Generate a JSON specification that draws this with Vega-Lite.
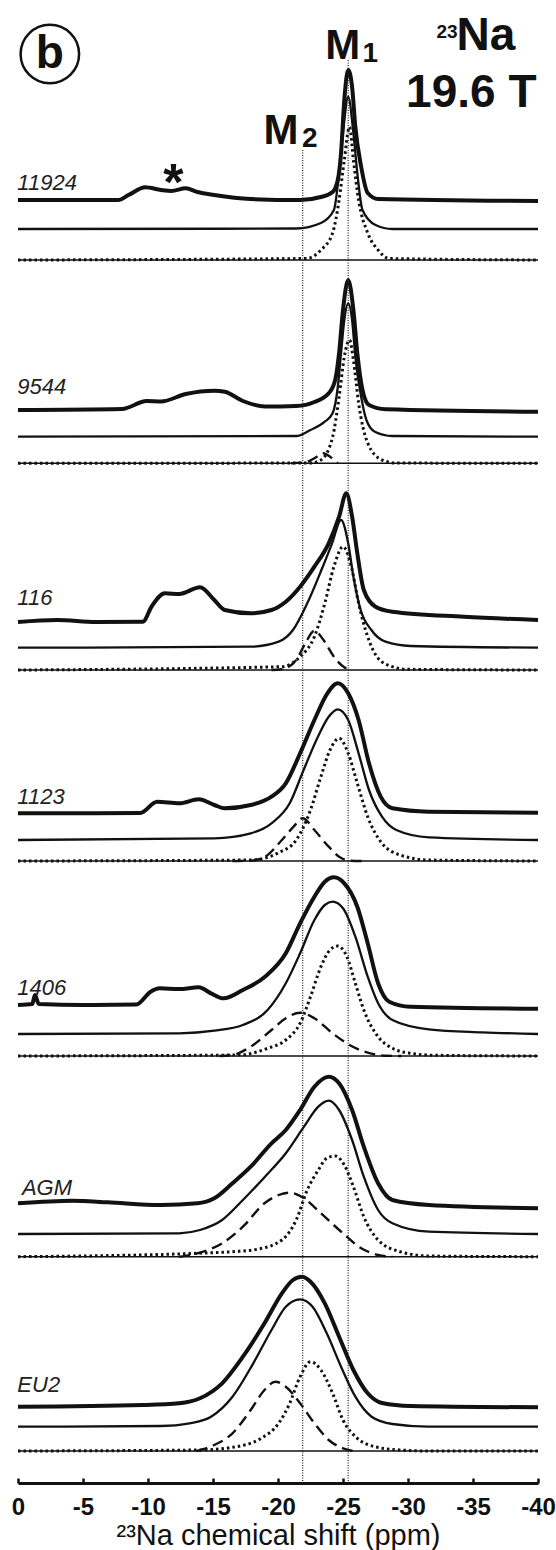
{
 "$schema": "https://vega.github.io/schema/vega-lite/v6.json",
 "width": 520, "height": 1483,
 "autosize": {"type": "none"},
 "padding": {"left": 18, "right": 18, "top": 0, "bottom": 67},
 "background": "white",
 "config": {"view": {"stroke": null}},
 "datasets": {
  "exp": [
   {"s":"11924","x":0,"y":1251},{"s":"11924","x":-7.7,"y":1251},{"s":"11924","x":-8.5,"y":1256},{"s":"11924","x":-9.8,"y":1263.7},{"s":"11924","x":-11.0,"y":1261},{"s":"11924","x":-11.8,"y":1260},{"s":"11924","x":-12.9,"y":1262.7},{"s":"11924","x":-13.8,"y":1259},{"s":"11924","x":-15.1,"y":1256},{"s":"11924","x":-17.9,"y":1252},{"s":"11924","x":-21.7,"y":1251},{"s":"11924","x":-23.3,"y":1254},{"s":"11924","x":-24.2,"y":1259},{"s":"11924","x":-24.6,"y":1271},{"s":"11924","x":-24.85,"y":1298},{"s":"11924","x":-25.1,"y":1351},{"s":"11924","x":-25.4,"y":1381},{"s":"11924","x":-25.7,"y":1364},{"s":"11924","x":-25.95,"y":1324},{"s":"11924","x":-26.4,"y":1284},{"s":"11924","x":-26.9,"y":1258},{"s":"11924","x":-27.7,"y":1252},{"s":"11924","x":-40,"y":1250},
   {"s":"9544","x":0,"y":1041},{"s":"9544","x":-8.0,"y":1042},{"s":"9544","x":-9.9,"y":1050},{"s":"9544","x":-11.0,"y":1049.5},{"s":"9544","x":-12.9,"y":1057},{"s":"9544","x":-15.1,"y":1060.3},{"s":"9544","x":-15.9,"y":1059.3},{"s":"9544","x":-17.3,"y":1050},{"s":"9544","x":-19.0,"y":1044.5},{"s":"9544","x":-21.4,"y":1045},{"s":"9544","x":-22.8,"y":1049},{"s":"9544","x":-23.9,"y":1057.7},{"s":"9544","x":-24.4,"y":1071},{"s":"9544","x":-24.7,"y":1098},{"s":"9544","x":-25.0,"y":1141},{"s":"9544","x":-25.4,"y":1171},{"s":"9544","x":-25.8,"y":1141},{"s":"9544","x":-26.1,"y":1098},{"s":"9544","x":-26.5,"y":1061},{"s":"9544","x":-27.0,"y":1046},{"s":"9544","x":-28.3,"y":1041.7},{"s":"9544","x":-40,"y":1039.3},
   {"s":"116","x":0,"y":829},{"s":"116","x":-3,"y":831},{"s":"116","x":-6,"y":829},{"s":"116","x":-9.6,"y":829.3},{"s":"116","x":-10.3,"y":845},{"s":"116","x":-11.3,"y":857.7},{"s":"116","x":-12.4,"y":857},{"s":"116","x":-14.0,"y":863.7},{"s":"116","x":-15.1,"y":851},{"s":"116","x":-15.9,"y":841},{"s":"116","x":-17.9,"y":837.7},{"s":"116","x":-19.5,"y":841},{"s":"116","x":-20.6,"y":849.3},{"s":"116","x":-21.7,"y":864.3},{"s":"116","x":-22.8,"y":884.3},{"s":"116","x":-23.9,"y":907.7},{"s":"116","x":-24.7,"y":934.3},{"s":"116","x":-25.25,"y":957.7},{"s":"116","x":-25.7,"y":934.3},{"s":"116","x":-26.1,"y":897.7},{"s":"116","x":-26.6,"y":861},{"s":"116","x":-27.5,"y":844.3},{"s":"116","x":-28.8,"y":839.3},{"s":"116","x":-34.3,"y":834.3},{"s":"116","x":-40,"y":831},
   {"s":"1123","x":0,"y":637.7},{"s":"1123","x":-9.4,"y":638},{"s":"1123","x":-10.7,"y":649.3},{"s":"1123","x":-12.4,"y":647.7},{"s":"1123","x":-13.9,"y":651.7},{"s":"1123","x":-15.1,"y":646},{"s":"1123","x":-15.9,"y":642.7},{"s":"1123","x":-17.9,"y":646},{"s":"1123","x":-19.5,"y":654.3},{"s":"1123","x":-20.6,"y":667.7},{"s":"1123","x":-21.7,"y":697.7},{"s":"1123","x":-22.8,"y":731},{"s":"1123","x":-23.8,"y":757.7},{"s":"1123","x":-24.6,"y":767.7},{"s":"1123","x":-25.4,"y":757.7},{"s":"1123","x":-26.2,"y":731},{"s":"1123","x":-27.0,"y":687.7},{"s":"1123","x":-27.9,"y":654.3},{"s":"1123","x":-28.8,"y":642.7},{"s":"1123","x":-31.6,"y":639.3},{"s":"1123","x":-40,"y":638.3},
   {"s":"1406","x":0,"y":446},{"s":"1406","x":-1.1,"y":447},{"s":"1406","x":-1.3,"y":456},{"s":"1406","x":-1.6,"y":447},{"s":"1406","x":-5,"y":446},{"s":"1406","x":-9.1,"y":446.5},{"s":"1406","x":-10.2,"y":459.3},{"s":"1406","x":-10.9,"y":462.7},{"s":"1406","x":-12.4,"y":462},{"s":"1406","x":-13.9,"y":463.7},{"s":"1406","x":-14.85,"y":457.7},{"s":"1406","x":-15.8,"y":452.7},{"s":"1406","x":-17.3,"y":461},{"s":"1406","x":-19.0,"y":474.3},{"s":"1406","x":-20.6,"y":497.7},{"s":"1406","x":-21.7,"y":527.7},{"s":"1406","x":-22.8,"y":554.3},{"s":"1406","x":-23.6,"y":569.3},{"s":"1406","x":-24.3,"y":573.7},{"s":"1406","x":-25.1,"y":567.7},{"s":"1406","x":-26.1,"y":544.3},{"s":"1406","x":-26.9,"y":507.7},{"s":"1406","x":-27.7,"y":467.7},{"s":"1406","x":-28.55,"y":449.3},{"s":"1406","x":-30.2,"y":444.3},{"s":"1406","x":-40,"y":442.3},
   {"s":"AGM","x":0,"y":247.7},{"s":"AGM","x":-4.2,"y":250.3},{"s":"AGM","x":-6.9,"y":248.7},{"s":"AGM","x":-11.0,"y":246},{"s":"AGM","x":-13.8,"y":247.7},{"s":"AGM","x":-15.1,"y":252.7},{"s":"AGM","x":-16.5,"y":267.7},{"s":"AGM","x":-17.9,"y":284.3},{"s":"AGM","x":-19.5,"y":307.7},{"s":"AGM","x":-20.6,"y":321},{"s":"AGM","x":-21.7,"y":341},{"s":"AGM","x":-22.8,"y":364.3},{"s":"AGM","x":-23.9,"y":374.3},{"s":"AGM","x":-24.7,"y":367.7},{"s":"AGM","x":-25.7,"y":341},{"s":"AGM","x":-26.6,"y":304.3},{"s":"AGM","x":-27.7,"y":267.7},{"s":"AGM","x":-28.8,"y":251},{"s":"AGM","x":-31.6,"y":246},{"s":"AGM","x":-40,"y":242.7},
   {"s":"EU2","x":0,"y":44.3},{"s":"EU2","x":-9.6,"y":46},{"s":"EU2","x":-12.4,"y":47.7},{"s":"EU2","x":-14.0,"y":52.7},{"s":"EU2","x":-15.7,"y":67.7},{"s":"EU2","x":-17.3,"y":94.3},{"s":"EU2","x":-18.96,"y":127.7},{"s":"EU2","x":-20.3,"y":157.7},{"s":"EU2","x":-21.15,"y":171},{"s":"EU2","x":-21.84,"y":174.3},{"s":"EU2","x":-22.5,"y":169.3},{"s":"EU2","x":-23.6,"y":147.7},{"s":"EU2","x":-24.7,"y":114.3},{"s":"EU2","x":-25.8,"y":81},{"s":"EU2","x":-26.9,"y":57.7},{"s":"EU2","x":-28.0,"y":48},{"s":"EU2","x":-30.2,"y":45},{"s":"EU2","x":-40,"y":43.7}
  ],
  "fit": [
   {"s":"11924","x":0,"y":1222},{"s":"11924","x":-21.4,"y":1222.5},{"s":"11924","x":-23.3,"y":1228},{"s":"11924","x":-24.3,"y":1241},{"s":"11924","x":-24.7,"y":1278},{"s":"11924","x":-25.0,"y":1318},{"s":"11924","x":-25.4,"y":1354},{"s":"11924","x":-25.8,"y":1318},{"s":"11924","x":-26.1,"y":1278},{"s":"11924","x":-26.5,"y":1241},{"s":"11924","x":-27.5,"y":1226},{"s":"11924","x":-28.8,"y":1222},{"s":"11924","x":-40,"y":1222},
   {"s":"9544","x":0,"y":1014.3},{"s":"9544","x":-21.4,"y":1015},{"s":"9544","x":-22.5,"y":1021},{"s":"9544","x":-23.6,"y":1029.3},{"s":"9544","x":-24.2,"y":1037.7},{"s":"9544","x":-24.6,"y":1064},{"s":"9544","x":-24.85,"y":1098},{"s":"9544","x":-25.1,"y":1131},{"s":"9544","x":-25.4,"y":1147.7},{"s":"9544","x":-25.7,"y":1131},{"s":"9544","x":-25.95,"y":1094},{"s":"9544","x":-26.4,"y":1054},{"s":"9544","x":-26.8,"y":1031},{"s":"9544","x":-27.45,"y":1019.3},{"s":"9544","x":-28.8,"y":1015},{"s":"9544","x":-40,"y":1014.3},
   {"s":"116","x":0,"y":803.3},{"s":"116","x":-17.9,"y":804.3},{"s":"116","x":-20.05,"y":809.3},{"s":"116","x":-21.15,"y":821},{"s":"116","x":-22.25,"y":847.7},{"s":"116","x":-23.34,"y":881},{"s":"116","x":-24.16,"y":907.7},{"s":"116","x":-24.85,"y":931},{"s":"116","x":-25.4,"y":907.7},{"s":"116","x":-25.8,"y":874.3},{"s":"116","x":-26.36,"y":841},{"s":"116","x":-27.18,"y":821},{"s":"116","x":-28.27,"y":809.3},{"s":"116","x":-30.2,"y":805},{"s":"116","x":-40,"y":803.3},
   {"s":"1123","x":0,"y":611},{"s":"1123","x":-15.1,"y":612.7},{"s":"1123","x":-17.9,"y":617.7},{"s":"1123","x":-19.5,"y":627.7},{"s":"1123","x":-20.9,"y":647.7},{"s":"1123","x":-21.97,"y":681},{"s":"1123","x":-23.07,"y":714.3},{"s":"1123","x":-23.9,"y":734.3},{"s":"1123","x":-24.6,"y":741.7},{"s":"1123","x":-25.4,"y":731},{"s":"1123","x":-26.2,"y":697.7},{"s":"1123","x":-27.0,"y":661},{"s":"1123","x":-28.0,"y":634.3},{"s":"1123","x":-29.1,"y":621},{"s":"1123","x":-31.6,"y":613.7},{"s":"1123","x":-40,"y":611},
   {"s":"1406","x":0,"y":417},{"s":"1406","x":-12.4,"y":417.7},{"s":"1406","x":-15.1,"y":420.3},{"s":"1406","x":-17.3,"y":426},{"s":"1406","x":-19.2,"y":441},{"s":"1406","x":-20.6,"y":467.7},{"s":"1406","x":-21.7,"y":497.7},{"s":"1406","x":-22.8,"y":531},{"s":"1406","x":-23.6,"y":546},{"s":"1406","x":-24.2,"y":549.3},{"s":"1406","x":-25.0,"y":542.7},{"s":"1406","x":-25.95,"y":514.3},{"s":"1406","x":-26.9,"y":474.3},{"s":"1406","x":-27.7,"y":447.7},{"s":"1406","x":-28.8,"y":431},{"s":"1406","x":-31.6,"y":421.7},{"s":"1406","x":-35.7,"y":418.7},{"s":"1406","x":-40,"y":417},
   {"s":"AGM","x":0,"y":217},{"s":"AGM","x":-12.4,"y":217.7},{"s":"AGM","x":-14.0,"y":221},{"s":"AGM","x":-15.7,"y":231},{"s":"AGM","x":-17.3,"y":251},{"s":"AGM","x":-19.0,"y":274.3},{"s":"AGM","x":-20.6,"y":297.7},{"s":"AGM","x":-22.0,"y":324.3},{"s":"AGM","x":-23.1,"y":344.3},{"s":"AGM","x":-23.9,"y":350.3},{"s":"AGM","x":-24.7,"y":341},{"s":"AGM","x":-25.7,"y":311},{"s":"AGM","x":-26.6,"y":274.3},{"s":"AGM","x":-27.7,"y":241},{"s":"AGM","x":-28.8,"y":227.7},{"s":"AGM","x":-31.6,"y":219.3},{"s":"AGM","x":-40,"y":217},
   {"s":"EU2","x":0,"y":24.3},{"s":"EU2","x":-11.0,"y":25},{"s":"EU2","x":-13.2,"y":27.7},{"s":"EU2","x":-14.85,"y":34.3},{"s":"EU2","x":-16.5,"y":54.3},{"s":"EU2","x":-18.1,"y":87.7},{"s":"EU2","x":-19.5,"y":121},{"s":"EU2","x":-20.6,"y":144.3},{"s":"EU2","x":-21.7,"y":151.7},{"s":"EU2","x":-22.66,"y":144.3},{"s":"EU2","x":-23.75,"y":117.7},{"s":"EU2","x":-24.85,"y":84.3},{"s":"EU2","x":-25.95,"y":54.3},{"s":"EU2","x":-27.2,"y":34.3},{"s":"EU2","x":-28.8,"y":27},{"s":"EU2","x":-31.6,"y":24.3},{"s":"EU2","x":-40,"y":24.3}
  ],
  "m1": [
   {"s":"11924","x":0,"y":1191},{"s":"11924","x":-22.2,"y":1192.5},{"s":"11924","x":-23.3,"y":1201},{"s":"11924","x":-24.2,"y":1218},{"s":"11924","x":-24.7,"y":1251},{"s":"11924","x":-25.1,"y":1291},{"s":"11924","x":-25.5,"y":1324},{"s":"11924","x":-25.8,"y":1291},{"s":"11924","x":-26.2,"y":1251},{"s":"11924","x":-26.9,"y":1218},{"s":"11924","x":-27.7,"y":1201},{"s":"11924","x":-28.55,"y":1192.5},{"s":"11924","x":-40,"y":1191},
   {"s":"9544","x":0,"y":987.7},{"s":"9544","x":-22.5,"y":988},{"s":"9544","x":-23.3,"y":991},{"s":"9544","x":-24.2,"y":1014},{"s":"9544","x":-24.7,"y":1054},{"s":"9544","x":-25.1,"y":1094},{"s":"9544","x":-25.5,"y":1111},{"s":"9544","x":-25.8,"y":1091},{"s":"9544","x":-26.2,"y":1048},{"s":"9544","x":-26.9,"y":1008},{"s":"9544","x":-28.0,"y":991},{"s":"9544","x":-29.1,"y":988},{"s":"9544","x":-40,"y":987.7},
   {"s":"116","x":0,"y":781},{"s":"116","x":-20.3,"y":784.3},{"s":"116","x":-21.7,"y":794.3},{"s":"116","x":-22.8,"y":814.3},{"s":"116","x":-23.6,"y":847.7},{"s":"116","x":-24.3,"y":884.3},{"s":"116","x":-25.0,"y":904.3},{"s":"116","x":-25.7,"y":881},{"s":"116","x":-26.2,"y":847.7},{"s":"116","x":-26.9,"y":814.3},{"s":"116","x":-27.7,"y":792.7},{"s":"116","x":-28.8,"y":784.3},{"s":"116","x":-29.9,"y":781.7},{"s":"116","x":-40,"y":781},
   {"s":"1123","x":0,"y":590},{"s":"1123","x":-17.9,"y":591},{"s":"1123","x":-20.05,"y":598.3},{"s":"1123","x":-21.4,"y":611},{"s":"1123","x":-22.5,"y":641},{"s":"1123","x":-23.3,"y":674.3},{"s":"1123","x":-24.0,"y":701},{"s":"1123","x":-24.7,"y":712.7},{"s":"1123","x":-25.4,"y":697.7},{"s":"1123","x":-26.1,"y":667.7},{"s":"1123","x":-26.9,"y":634.3},{"s":"1123","x":-28.0,"y":607.7},{"s":"1123","x":-29.4,"y":596},{"s":"1123","x":-31.6,"y":591},{"s":"1123","x":-40,"y":590},
   {"s":"1406","x":0,"y":395},{"s":"1406","x":-17.0,"y":396},{"s":"1406","x":-19.2,"y":402.7},{"s":"1406","x":-20.6,"y":411},{"s":"1406","x":-21.7,"y":427.7},{"s":"1406","x":-22.5,"y":454.3},{"s":"1406","x":-23.3,"y":484.3},{"s":"1406","x":-24.0,"y":501},{"s":"1406","x":-24.6,"y":505},{"s":"1406","x":-25.3,"y":494.3},{"s":"1406","x":-25.95,"y":467.7},{"s":"1406","x":-26.6,"y":441},{"s":"1406","x":-27.7,"y":414.3},{"s":"1406","x":-28.8,"y":402.7},{"s":"1406","x":-30.2,"y":397.7},{"s":"1406","x":-32.1,"y":395.7},{"s":"1406","x":-40,"y":395},
   {"s":"AGM","x":0,"y":194.3},{"s":"AGM","x":-13.75,"y":197.7},{"s":"AGM","x":-16.5,"y":199.3},{"s":"AGM","x":-18.4,"y":201.7},{"s":"AGM","x":-20.3,"y":211},{"s":"AGM","x":-21.4,"y":231},{"s":"AGM","x":-22.25,"y":261},{"s":"AGM","x":-23.1,"y":281},{"s":"AGM","x":-23.75,"y":292.7},{"s":"AGM","x":-24.4,"y":295},{"s":"AGM","x":-25.1,"y":286},{"s":"AGM","x":-25.8,"y":264.3},{"s":"AGM","x":-26.6,"y":234.3},{"s":"AGM","x":-27.7,"y":211},{"s":"AGM","x":-29.4,"y":199.3},{"s":"AGM","x":-31.6,"y":195},{"s":"AGM","x":-40,"y":194.3},
   {"s":"EU2","x":0,"y":0},{"s":"EU2","x":-14.0,"y":1},{"s":"EU2","x":-16.5,"y":3.7},{"s":"EU2","x":-18.7,"y":12.7},{"s":"EU2","x":-20.05,"y":27.7},{"s":"EU2","x":-20.9,"y":47.7},{"s":"EU2","x":-21.7,"y":74.3},{"s":"EU2","x":-22.5,"y":89.3},{"s":"EU2","x":-23.3,"y":81},{"s":"EU2","x":-24.2,"y":57.7},{"s":"EU2","x":-25.0,"y":31},{"s":"EU2","x":-26.1,"y":12.7},{"s":"EU2","x":-27.45,"y":4.3},{"s":"EU2","x":-29.4,"y":1},{"s":"EU2","x":-31.6,"y":0},{"s":"EU2","x":-40,"y":0}
  ],
  "m2": [
   {"s":"9544","x":-21.0,"y":987.7},{"s":"9544","x":-22.2,"y":989},{"s":"9544","x":-22.8,"y":992.7},{"s":"9544","x":-23.5,"y":997.7},{"s":"9544","x":-24.0,"y":994.3},{"s":"9544","x":-24.6,"y":987.7},
   {"s":"116","x":-19.5,"y":781},{"s":"116","x":-20.3,"y":781.7},{"s":"116","x":-21.4,"y":791},{"s":"116","x":-22.1,"y":807.7},{"s":"116","x":-22.8,"y":820.3},{"s":"116","x":-23.5,"y":811},{"s":"116","x":-24.3,"y":794.3},{"s":"116","x":-25.1,"y":783.7},{"s":"116","x":-25.7,"y":781},
   {"s":"1123","x":-16.5,"y":590},{"s":"1123","x":-17.9,"y":590.3},{"s":"1123","x":-19.0,"y":594.3},{"s":"1123","x":-20.3,"y":611},{"s":"1123","x":-21.2,"y":624.3},{"s":"1123","x":-21.9,"y":632.7},{"s":"1123","x":-22.8,"y":621},{"s":"1123","x":-23.9,"y":604.3},{"s":"1123","x":-24.7,"y":594.3},{"s":"1123","x":-25.5,"y":590.3},{"s":"1123","x":-26.5,"y":590},
   {"s":"1406","x":-15.5,"y":395},{"s":"1406","x":-16.5,"y":396},{"s":"1406","x":-17.9,"y":404.3},{"s":"1406","x":-19.5,"y":421},{"s":"1406","x":-20.6,"y":432.7},{"s":"1406","x":-21.7,"y":438.3},{"s":"1406","x":-22.8,"y":432.7},{"s":"1406","x":-24.2,"y":417.7},{"s":"1406","x":-25.5,"y":406},{"s":"1406","x":-26.9,"y":398.3},{"s":"1406","x":-28.3,"y":395.3},{"s":"1406","x":-29.5,"y":395},
   {"s":"AGM","x":-12.4,"y":194.3},{"s":"AGM","x":-14.0,"y":198.3},{"s":"AGM","x":-15.7,"y":207.7},{"s":"AGM","x":-17.3,"y":224.3},{"s":"AGM","x":-18.96,"y":247.7},{"s":"AGM","x":-20.05,"y":256},{"s":"AGM","x":-20.9,"y":258.3},{"s":"AGM","x":-22.0,"y":252.7},{"s":"AGM","x":-23.3,"y":237.7},{"s":"AGM","x":-25.0,"y":217.7},{"s":"AGM","x":-26.4,"y":202.7},{"s":"AGM","x":-27.7,"y":196},{"s":"AGM","x":-28.8,"y":194.3},
   {"s":"EU2","x":-13.75,"y":0},{"s":"EU2","x":-15.1,"y":6},{"s":"EU2","x":-16.5,"y":17.7},{"s":"EU2","x":-17.9,"y":41},{"s":"EU2","x":-18.96,"y":61},{"s":"EU2","x":-19.8,"y":69.3},{"s":"EU2","x":-20.6,"y":64.3},{"s":"EU2","x":-21.7,"y":47.7},{"s":"EU2","x":-22.8,"y":27.7},{"s":"EU2","x":-23.9,"y":11},{"s":"EU2","x":-25.0,"y":2.7},{"s":"EU2","x":-25.8,"y":0}
  ],
  "base": [
   {"s":"11924","x":0,"y":1191},{"s":"11924","x":-40,"y":1191},
   {"s":"9544","x":0,"y":987.7},{"s":"9544","x":-40,"y":987.7},
   {"s":"116","x":0,"y":781},{"s":"116","x":-40,"y":781},
   {"s":"1123","x":0,"y":590},{"s":"1123","x":-40,"y":590},
   {"s":"1406","x":0,"y":395},{"s":"1406","x":-40,"y":395},
   {"s":"AGM","x":0,"y":194.3},{"s":"AGM","x":-40,"y":194.3},
   {"s":"EU2","x":0,"y":0},{"s":"EU2","x":-40,"y":0}
  ]
 },
 "encoding": {
  "x": {"field": "x", "type": "quantitative",
   "scale": {"domain": [0, -40], "nice": false, "zero": false},
   "axis": {"values": [0,-5,-10,-15,-20,-25,-30,-35,-40], "labelExpr": "'' + datum.value",
    "title": "²³Na chemical shift (ppm)", "grid": false,
    "domainColor": "#111", "domainWidth": 3, "tickColor": "#111", "tickWidth": 2.5, "tickSize": -5,
    "labelPadding": 17, "labelFont": "Liberation Sans", "labelFontSize": 24, "labelFontWeight": "bold",
    "labelColor": "#111", "labelFlush": false, "labelOverlap": false,
    "titleFont": "Liberation Sans", "titleFontSize": 29, "titleFontWeight": "normal", "titleColor": "#111", "titlePadding": 2}},
  "y": {"field": "y", "type": "quantitative", "scale": {"domain": [-32, 1451], "nice": false, "zero": false}, "axis": null}
 },
 "layer": [
  {"data": {"name": "base"}, "mark": {"type": "line", "color": "#111", "strokeWidth": 1.6}, "encoding": {"detail": {"field": "s"}}},
  {"data": {"name": "m1"}, "mark": {"type": "line", "color": "#111", "strokeWidth": 3, "strokeDash": [2.5, 3], "interpolate": "monotone"}, "encoding": {"detail": {"field": "s"}}},
  {"data": {"name": "m2"}, "mark": {"type": "line", "color": "#111", "strokeWidth": 2.4, "strokeDash": [11, 6], "interpolate": "monotone"}, "encoding": {"detail": {"field": "s"}}},
  {"data": {"name": "fit"}, "mark": {"type": "line", "color": "#111", "strokeWidth": 2.3, "interpolate": "monotone"}, "encoding": {"detail": {"field": "s"}}},
  {"data": {"name": "exp"}, "mark": {"type": "line", "color": "#111", "strokeWidth": 4, "interpolate": "monotone"}, "encoding": {"detail": {"field": "s"}}},
  {"data": {"values": [{"x": -25.4, "y": 1391, "y2": -32}, {"x": -21.9, "y": 1301, "y2": -32}]},
   "mark": {"type": "rule", "color": "#222", "strokeWidth": 1.2, "strokeDash": [1, 1.5]},
   "encoding": {"y2": {"field": "y2"}}},
  {"data": {"values": [{"x": 0.05, "y": 1268, "t": "11924"}, {"x": 0.05, "y": 1064, "t": "9544"}, {"x": 0.05, "y": 853, "t": "116"}, {"x": 0.05, "y": 654, "t": "1123"}, {"x": 0.05, "y": 463, "t": "1406"}, {"x": -0.3, "y": 263, "t": "AGM"}, {"x": 0.05, "y": 66, "t": "EU2"}]},
   "mark": {"type": "text", "align": "left", "baseline": "middle", "font": "Liberation Sans", "fontStyle": "italic", "fontSize": 22, "color": "#222"},
   "encoding": {"text": {"field": "t"}}},
  {"data": {"values": [{"x": -24.98, "y": 1405, "t": "M"}, {"x": -20.23, "y": 1320, "t": "M"}]},
   "mark": {"type": "text", "align": "center", "baseline": "middle", "font": "Liberation Sans", "fontWeight": "bold", "fontSize": 42, "color": "#111"},
   "encoding": {"text": {"field": "t"}}},
  {"data": {"values": [{"x": -27.1, "y": 1397, "t": "1"}, {"x": -22.45, "y": 1312, "t": "2"}]},
   "mark": {"type": "text", "align": "center", "baseline": "middle", "font": "Liberation Sans", "fontWeight": "bold", "fontSize": 28, "color": "#111"},
   "encoding": {"text": {"field": "t"}}},
  {"data": {"values": [{"x": -36.0, "y": 1415, "t": "Na"}, {"x": -34.87, "y": 1358, "t": "19.6 T"}]},
   "mark": {"type": "text", "align": "center", "baseline": "middle", "font": "Liberation Sans", "fontWeight": "bold", "fontSize": 46, "color": "#111"},
   "encoding": {"text": {"field": "t"}}},
  {"data": {"values": [{"x": -33.0, "y": 1419, "t": "23"}]},
   "mark": {"type": "text", "align": "center", "baseline": "middle", "font": "Liberation Sans", "fontWeight": "bold", "fontSize": 19, "color": "#111"},
   "encoding": {"text": {"field": "t"}}},
  {"data": {"values": [{"x": -11.95, "y": 1251, "t": "*"}]},
   "mark": {"type": "text", "align": "center", "baseline": "alphabetic", "font": "Liberation Sans", "fontWeight": "bold", "fontSize": 52, "color": "#111"},
   "encoding": {"text": {"field": "t"}}},
  {"data": {"values": [{"x": -2.45, "y": 1397, "t": "b"}]},
   "mark": {"type": "text", "align": "center", "baseline": "middle", "font": "Liberation Sans", "fontWeight": "bold", "fontSize": 46, "color": "#111"},
   "encoding": {"text": {"field": "t"}}},
  {"data": {"values": [{"x": -2.45, "y": 1397}]},
   "mark": {"type": "point", "shape": "circle", "filled": false, "size": 3421, "strokeWidth": 2.5, "color": "#111", "opacity": 1}}
 ]
}
